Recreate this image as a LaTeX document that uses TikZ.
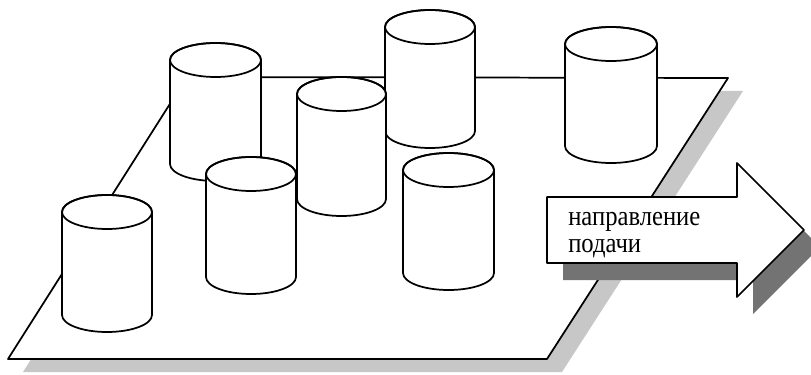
\documentclass[tikz,border=0pt]{standalone}
\usepackage{fontspec}
\setmainfont{Liberation Serif}
\newfontfamily\labelfont[FakeStretch=0.88]{Liberation Serif}
\begin{document}
\begin{tikzpicture}[x=0.75pt,y=-0.75pt,
  outline/.style={draw=black,line width=1.3pt,line join=round},
  platestyle/.style={outline,fill=white},
  plateshadow/.style={fill=black!22},
  arrowshadow/.style={fill=black!55},
  canbody/.style={outline,fill=white},
  labeltext/.style={anchor=base west,inner sep=0pt,font=\labelfont\fontsize{21}{25}\selectfont}]
\useasboundingbox (0,0) rectangle (811,375);

% one upright can: left x, centre y of the top rim, centre y of the base, half width
\newcommand\drawcan[4]{%
  \path[canbody] (#1,#2) -- (#1,#3)
     arc[start angle=180,end angle=360,x radius=#4*0.75pt,y radius=12.75pt]
     -- (#1+2*#4,#2)
     arc[start angle=0,end angle=180,x radius=#4*0.75pt,y radius=12.75pt] -- cycle;
  \draw[outline] (#1+#4,#2) ellipse[x radius=#4*0.75pt,y radius=12.75pt];
}

% the plate and its shadow
\fill[plateshadow] (202,90) -- (743,91) -- (562,372) -- (23,372) -- cycle;
\path[platestyle] (187,77) -- (728,78) -- (547,359) -- (8,359) -- cycle;

% cans, back to front
\drawcan{385}{27}{131}{45}
\drawcan{565}{44}{146}{46}
\drawcan{170}{60}{164}{45.5}
\drawcan{297}{94}{199}{44.5}
\drawcan{403}{170}{273}{45.5}
\drawcan{206}{174}{277}{45}
\drawcan{62}{212}{315}{45}

% feed direction arrow
\fill[arrowshadow] (563,214) -- (753,214) -- (753,180) -- (820,247) -- (753,314)
   -- (753,280) -- (563,280) -- cycle;
\path[platestyle] (547,197) -- (737,197) -- (737,163) -- (804,230) -- (737,297)
   -- (737,263) -- (547,263) -- cycle;
\node[labeltext] (line1) at (568,225) {направление};
\node[labeltext] (line2) at (568,252) {подачи};
\end{tikzpicture}
\end{document}
